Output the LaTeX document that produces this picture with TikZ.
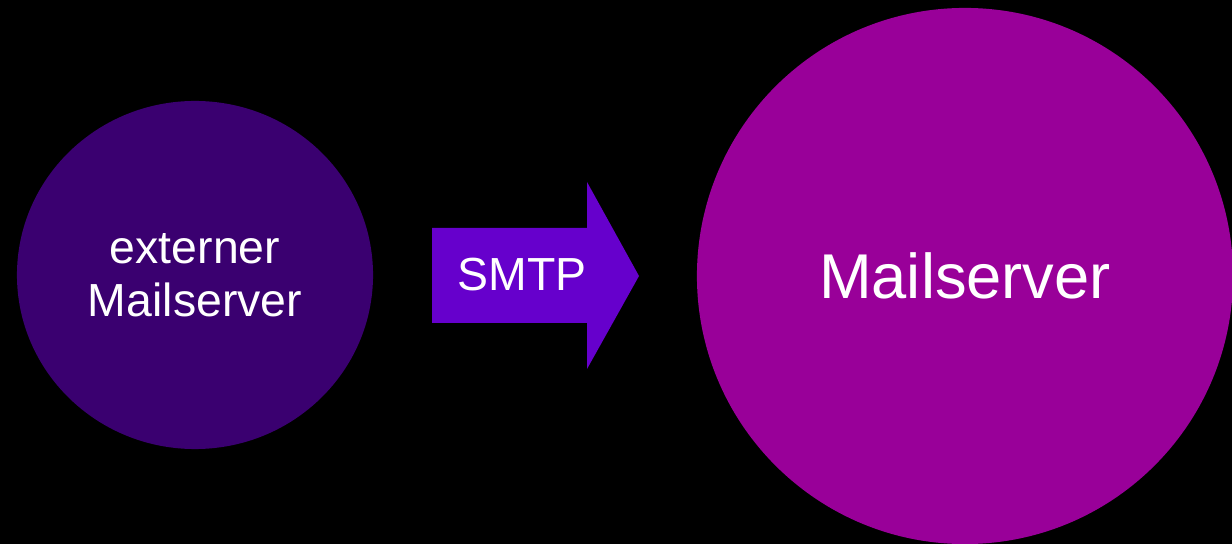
\documentclass[tikz,border=0pt]{standalone}
\usepackage{fontspec}
\setmainfont{Liberation Sans}
\usepackage{tikz}
\usetikzlibrary{positioning,shapes.geometric}
\definecolor{mydarkpurple}{RGB}{58,0,112}
\definecolor{myviolet}{RGB}{102,0,204}
\definecolor{mymagenta}{RGB}{153,0,153}

\begin{document}
\begin{tikzpicture}[x=0.025cm,y=-0.025cm]
  % background
  \fill[black] (0,0) rectangle (1232,544);
  \useasboundingbox (0,0) rectangle (1232,544);
  \clip (0,0) rectangle (1232,544);

  % external server
  \node[ellipse, fill=mydarkpurple, minimum width=8.9cm, minimum height=8.7cm, inner sep=0pt,
        text=white, align=center, font=\fontsize{33}{37.5}\selectfont] (ext) at (195,275) {externer\\Mailserver};

  % SMTP arrow
  \fill[myviolet] (432,228) -- (587,228) -- (587,182) -- (639,276) -- (587,369) -- (587,323) -- (432,323) -- cycle;
  \node[text=white, font=\fontsize{33}{37.5}\selectfont, inner sep=0pt] (smtp) at (522,275) {SMTP};

  % mail server
  \node[circle, fill=mymagenta, minimum size=13.4cm, inner sep=0pt,
        text=white, font=\fontsize{45}{54}\selectfont] (mail) at (965,276) {Mailserver};
\end{tikzpicture}
\end{document}
